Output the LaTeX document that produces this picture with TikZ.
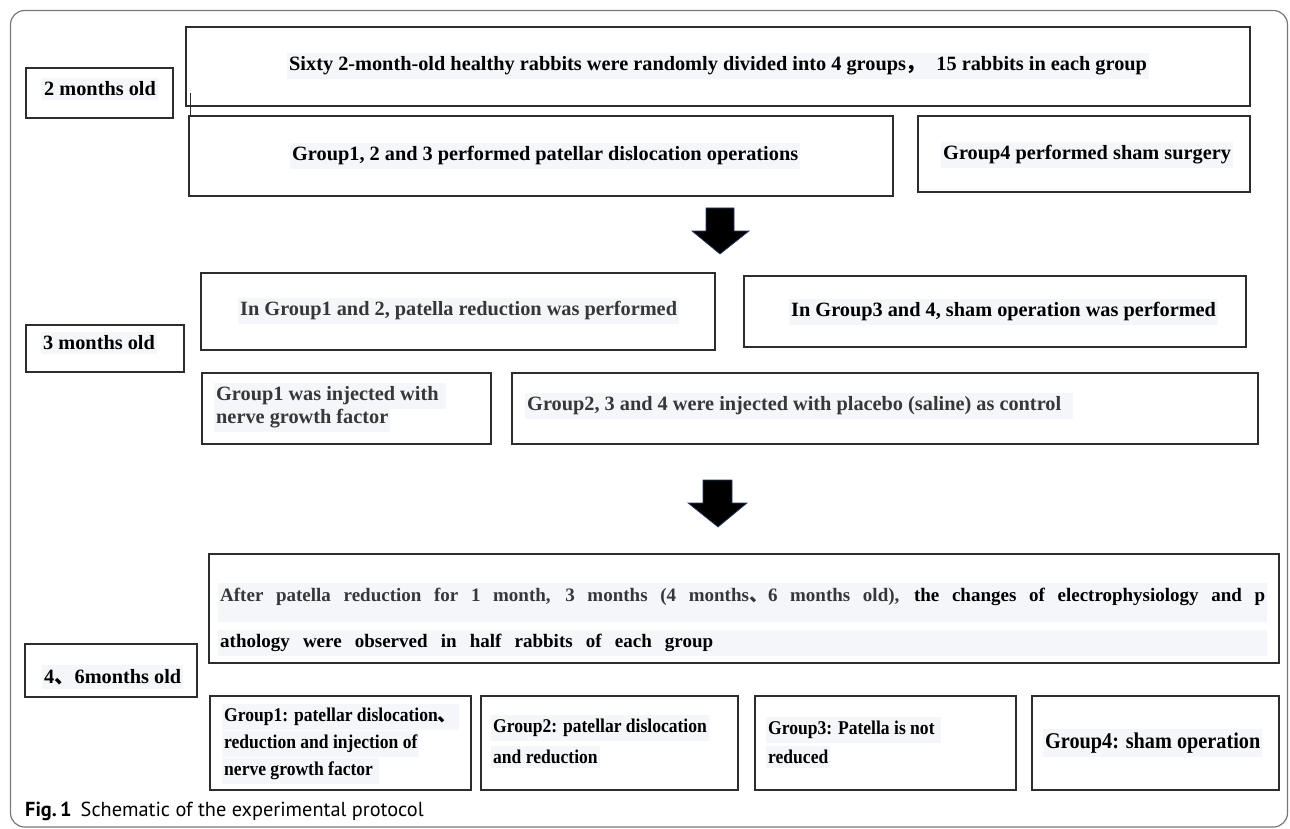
\documentclass[tikz,border=0pt]{standalone}
\usepackage{fontspec}
\setmainfont{Liberation Serif}
\newfontfamily\cjk{Noto Sans CJK SC}
\newfontfamily\condf[FakeStretch=0.9]{Liberation Serif}
\newfontfamily\capsf{PT Sans}
\definecolor{hl}{RGB}{244,246,249}
\definecolor{boxline}{RGB}{45,45,45}
\definecolor{framec}{RGB}{120,120,120}
\definecolor{txtgray}{RGB}{55,55,55}
\definecolor{arrowedge}{RGB}{40,60,110}
\newcommand\tf{\fontsize{20.3}{24}\selectfont\bfseries}
\newcommand\af{\fontsize{19}{23}\selectfont\bfseries}
\newcommand\cf{\condf\fontsize{19.5}{23}\selectfont\bfseries}
\newcommand\cfb{\condf\fontsize{22.5}{26}\selectfont\bfseries}
\begin{document}
\begin{tikzpicture}[x=1pt,y=-1pt,
  box/.style={draw=boxline,line width=1.4pt},
  txt/.style={fill=hl,inner xsep=2pt,inner ysep=4pt,anchor=west,text=black},
  blockarrow/.style={fill=black,draw=arrowedge,line width=0.7pt,line join=miter}]
\useasboundingbox (0,0) rectangle (1290,829);
\draw[framec,line width=1.2pt,rounded corners=14pt] (10.5,10.5) rectangle (1287.5,827);
% stage 1
\draw[box] (26,68) rectangle (173,118); \node[txt] (t2m) at (42,89) {\tf 2 months old};
\draw[box] (186,27) rectangle (1250,106);
\node[txt] (tsixty) at (287,66) {\tf Sixty 2-month-old healthy rabbits were randomly divided into 4 groups{\cjk ，}\ \ 15 rabbits in each group};
\draw[boxline,line width=1.2pt] (190.5,93) -- (190.5,116);
\draw[box] (189,116) rectangle (893,196);
\node[txt] (tg123) at (290,156) {\tf Group1, 2 and 3 performed patellar dislocation operations};
\draw[box] (918,116) rectangle (1250,192);
\node[txt] (tg4s) at (941,155) {\tf Group4 performed sham surgery};
\fill[blockarrow] (706,208) -- (734,208) -- (734,231) -- (749,231) -- (720,254) -- (692,231) -- (706,231) -- cycle;
% stage 2
\draw[box] (26,325) rectangle (184,372); \node[txt] (t3m) at (41,343) {\tf 3 months old};
\draw[box] (201,273) rectangle (715,350);
\node[txt,text=txtgray] (tin12) at (238,311) {\tf In Group1 and 2, patella reduction was performed};
\draw[box] (744,276) rectangle (1246,347);
\node[txt] (tin34) at (789,312) {\tf In Group3 and 4, sham operation was performed};
\draw[box] (202,373) rectangle (491,444);
\node[txt,text=txtgray] (tinjA) at (214,396) {\tf Group1 was injected with\ \ };
\node[txt,text=txtgray] (tinjB) at (214,419) {\tf nerve growth factor};
\draw[box] (512,373) rectangle (1258,444);
\node[txt,text=txtgray] (tg234) at (525,406) {\tf Group2, 3 and 4 were injected with placebo (saline) as control\ \ \ };
\fill[blockarrow] (703,480) -- (732,480) -- (732,503) -- (747,503) -- (718,527) -- (688,503) -- (703,503) -- cycle;
% stage 3
\draw[box] (209,554) rectangle (1279,663);
\fill[hl] (218,583) rectangle (1267,622);
\fill[hl] (218,630) rectangle (1267,656);
\node[anchor=west,inner sep=0pt] (taftA) at (220,597) {\af\makebox[1045pt][s]{\textcolor{txtgray}{After patella reduction for 1 month, 3 months (4 months{\cjk 、}6 months old),} the changes of electrophysiology and p}};
\node[anchor=west,inner sep=0pt] (taftB) at (220,643) {\af\makebox[493pt][s]{athology were observed in half rabbits of each group}};
\draw[box] (25,644) rectangle (197,697); \node[txt] (t46m) at (42,677) {\tf 4{\cjk 、}6months old};
\draw[box] (210,696) rectangle (471,790);
\node[txt] (tb1a) at (222,717) {\cf Group1: patellar dislocation{\cjk 、}};
\node[txt] (tb1b) at (222,744) {\cf reduction and injection of};
\node[txt] (tb1c) at (222,771) {\cf nerve growth factor\ \ };
\draw[box] (481,696) rectangle (738,790);
\node[txt] (tb2a) at (491,728) {\cf Group2: patellar dislocation\ };
\node[txt] (tb2b) at (491,757) {\cf and reduction\ };
\draw[box] (755,696) rectangle (1016,790);
\node[txt] (tb3a) at (766,730) {\cf Group3: Patella is not\ \ };
\node[txt] (tb3b) at (766,757) {\cf reduced};
\draw[box] (1032,696) rectangle (1279,790);
\node[txt] (tb4) at (1043,743) {\cfb Group4: sham operation};
% caption
\node[anchor=west,inner sep=0pt] (cap) at (25,811) {\fontsize{20.3}{23}\selectfont\capsf{\bfseries Fig.\,1}\hspace{9pt}Schematic of the experimental protocol};
\end{tikzpicture}
\end{document}
